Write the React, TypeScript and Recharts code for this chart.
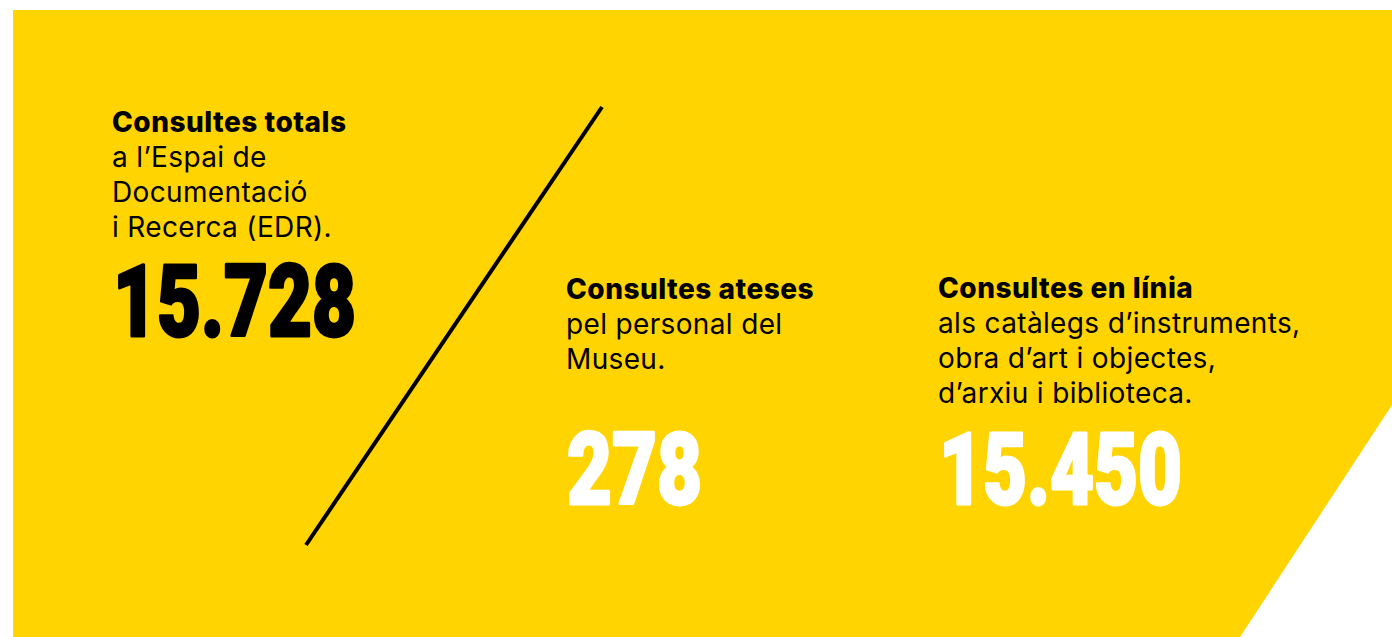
import { ScatterChart, Scatter, XAxis, YAxis, ReferenceLine } from 'recharts';

// stats shown on the panel
const VALUES = [15728, 278, 15450];
const TITLES = ['Consultes totals', 'Consultes ateses', 'Consultes en línia'];
const DESCRIPTIONS = [
  ['a l’Espai de', 'Documentació', 'i Recerca (EDR).'],
  ['pel personal del', 'Museu.'],
  ['als catàlegs d’instruments,', 'obra d’art i objectes,', 'd’arxiu i biblioteca.'],
];
const VALUE_COLORS = ['#000000', '#ffffff', '#ffffff'];

// layout (pixel space, the axes map 1:1)
const W = 1392;
const H = 637;
const COL_X = [112, 566, 938];
const TITLE_BASELINE = [132, 299, 298];
const NUM_BASELINE = [336, 504, 504];
const NUM_WIDTH = [243, 135, 243];
const LINE_GAP = 35;
const YELLOW = '#FFD400';
const FONT = "Inter, Roboto, 'Liberation Sans', sans-serif";
const NUM_FONT = "Roboto, 'Liberation Sans', sans-serif";

const formatNumber = (n: number) =>
  String(n).replace(/\B(?=(\d{3})+(?!\d))/g, '.');

const data = VALUES.map((value, i) => ({ x: COL_X[i], y: NUM_BASELINE[i], value, i }));

const StatBlock = (props: any) => {
  const { cx, cy, payload } = props;
  const i = payload.i;
  const titleY = cy - (NUM_BASELINE[i] - TITLE_BASELINE[i]);
  return (
    <g>
      <text
        x={cx}
        y={titleY}
        fontFamily={FONT}
        fontSize={28}
        fontWeight={800}
        letterSpacing={0.5}
        fill="#000"
      >
        {TITLES[i]}
      </text>
      {DESCRIPTIONS[i].map((line, k) => (
        <text
          key={k}
          x={cx}
          y={titleY + LINE_GAP * (k + 1)}
          fontFamily={FONT}
          fontSize={28}
          letterSpacing={0.35}
          fill="#000"
        >
          {line}
        </text>
      ))}
      <text
        x={cx + 1}
        y={cy}
        fontFamily={NUM_FONT}
        fontSize={101}
        fontWeight={900}
        fill={VALUE_COLORS[i]}
        stroke={VALUE_COLORS[i]}
        strokeWidth={3}
        strokeLinejoin="round"
        textLength={NUM_WIDTH[i]}
        lengthAdjust="spacingAndGlyphs"
      >
        {formatNumber(payload.value)}
      </text>
    </g>
  );
};

export default function App() {
  return (
    <div style={{ position: 'absolute', left: 0, top: 0, width: W, height: H, background: '#fff' }}>
      <div
        style={{
          position: 'absolute',
          left: 13,
          top: 10,
          width: W - 13,
          height: H - 10,
          background: YELLOW,
          clipPath: 'polygon(0 0, 100% 0, 100% 395px, 1227px 100%, 0 100%)',
        }}
      />
      <div style={{ position: 'absolute', left: 0, top: 0 }}>
        <ScatterChart width={W} height={H} margin={{ top: 0, right: 0, bottom: 0, left: 0 }}>
          <XAxis type="number" dataKey="x" domain={[0, W]} hide />
          <YAxis type="number" dataKey="y" domain={[0, H]} reversed hide />
          <ReferenceLine
            segment={[{ x: 602, y: 107 }, { x: 306, y: 545 }]}
            stroke="#000"
            strokeWidth={4}
          />
          <Scatter data={data} shape={StatBlock} isAnimationActive={false} />
        </ScatterChart>
      </div>
    </div>
  );
}
